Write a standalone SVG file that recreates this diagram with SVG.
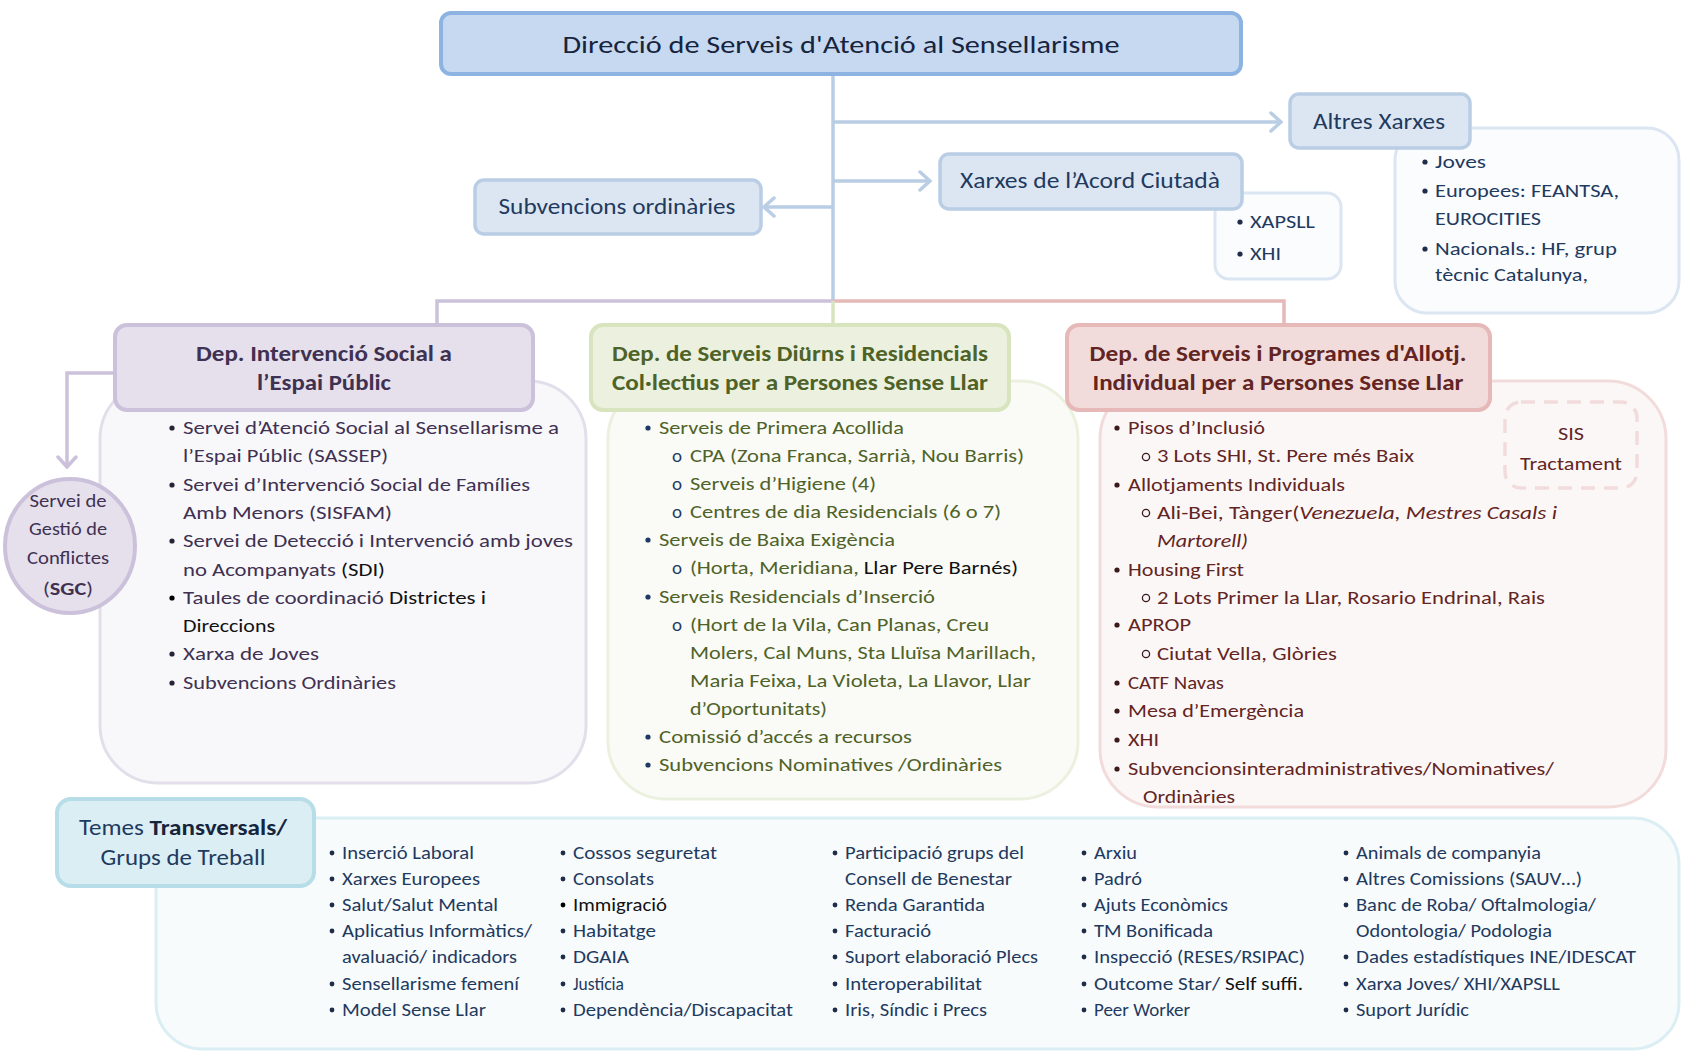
<svg xmlns="http://www.w3.org/2000/svg" width="1682" height="1056" viewBox="0 0 1682 1056">
<defs>
<style>
text{font-family:Carlito,Lato,"Liberation Sans",sans-serif;}
.t19{font-size:19px;}
.t17{font-size:17.5px;}
.hd{font-size:21.5px;font-weight:bold;text-anchor:middle;}
.sm{font-size:22px;fill:#1f3a5f;text-anchor:middle;}
.pu{fill:#403152;}
.gr{fill:#4f6228;}
.rd{fill:#632523;}
.bl{fill:#1f3a5f;}
.bk{fill:#111111;}
.conn{fill:none;stroke-width:3.5;}
</style>
<marker id="arB" viewBox="0 0 14 22" refX="12" refY="11" markerWidth="14" markerHeight="22" markerUnits="userSpaceOnUse" orient="auto">
<path d="M2,2 L12,11 L2,20" fill="none" stroke="#b9cde5" stroke-width="3.5" stroke-linecap="round"/>
</marker>
<marker id="arP" viewBox="0 0 14 22" refX="12" refY="11" markerWidth="14" markerHeight="22" markerUnits="userSpaceOnUse" orient="auto">
<path d="M2,2 L12,11 L2,20" fill="none" stroke="#ccc1da" stroke-width="3.5" stroke-linecap="round"/>
</marker>
</defs>
<rect width="1682" height="1056" fill="#ffffff"/>

<g id="connectors">
<path class="conn" d="M833,74 V301" stroke="#b9cde5"/>
<path class="conn" d="M833,122 H1281" stroke="#b9cde5" marker-end="url(#arB)"/>
<path class="conn" d="M833,181 H930" stroke="#b9cde5" marker-end="url(#arB)"/>
<path class="conn" d="M833,207 H764" stroke="#b9cde5" marker-end="url(#arB)"/>
<path class="conn" d="M833,301 H437 V326" stroke="#ccc1da"/>
<path class="conn" d="M833,301 H1284 V326" stroke="#e6b9b8"/>
<path class="conn" d="M833,301 V326" stroke="#d7e4bd"/>
<path class="conn" d="M116,373 H67 V467" stroke="#ccc1da" marker-end="url(#arP)"/>
</g>

<g id="direccio">
<rect x="441" y="13" width="800" height="61" rx="10" fill="#c6d9f1" stroke="#8db3e2" stroke-width="4"/>
<text x="841" y="53" text-anchor="middle" style="font-size:25px;fill:#17243e" textLength="557" lengthAdjust="spacingAndGlyphs">Direcció de Serveis d'Atenció al Sensellarisme</text>
</g>

<g id="altres-xarxes-llista">
<rect x="1395" y="128" width="284" height="185" rx="32" fill="#fbfcfe" stroke="#dce6f2" stroke-width="3"/>
<circle cx="1425" cy="162" r="2.6" fill="#1f2d4a"/>
<text class="t19 bl" x="1435" y="168" textLength="51" lengthAdjust="spacingAndGlyphs">Joves</text>
<circle cx="1425" cy="191" r="2.6" fill="#1f2d4a"/>
<text class="t19 bl" x="1435" y="197" textLength="184" lengthAdjust="spacingAndGlyphs">Europees: FEANTSA,</text>
<text class="t19 bl" x="1435" y="225" textLength="106" lengthAdjust="spacingAndGlyphs">EUROCITIES</text>
<circle cx="1425" cy="249" r="2.6" fill="#1f2d4a"/>
<text class="t19 bl" x="1435" y="255" textLength="182" lengthAdjust="spacingAndGlyphs">Nacionals.:  HF, grup</text>
<text class="t19 bl" x="1435" y="281" textLength="153" lengthAdjust="spacingAndGlyphs">tècnic Catalunya,</text>
</g>

<g id="altres-xarxes">
<rect x="1290" y="94" width="180" height="54" rx="9" fill="#dce6f2" stroke="#b9cde5" stroke-width="3.5"/>
<text class="sm" x="1379" y="129" textLength="132" lengthAdjust="spacingAndGlyphs">Altres Xarxes</text>
</g>

<g id="acord-llista">
<rect x="1215" y="193" width="126" height="86" rx="14" fill="#fbfcfe" stroke="#dce6f2" stroke-width="3"/>
<circle cx="1240" cy="222" r="2.6" fill="#1f2d4a"/>
<text class="t19 bl" x="1250" y="228" textLength="65" lengthAdjust="spacingAndGlyphs">XAPSLL</text>
<circle cx="1240" cy="254" r="2.6" fill="#1f2d4a"/>
<text class="t19 bl" x="1250" y="260" textLength="31" lengthAdjust="spacingAndGlyphs">XHI</text>
</g>

<g id="xarxes-acord">
<rect x="940" y="154" width="302" height="55" rx="9" fill="#dce6f2" stroke="#b9cde5" stroke-width="3.5"/>
<text class="sm" x="1090" y="188" textLength="260" lengthAdjust="spacingAndGlyphs">Xarxes de l’Acord Ciutadà</text>
</g>

<g id="subvencions">
<rect x="475" y="180" width="286" height="54" rx="9" fill="#dce6f2" stroke="#b9cde5" stroke-width="3.5"/>
<text class="sm" x="617" y="214" textLength="237" lengthAdjust="spacingAndGlyphs">Subvencions ordinàries</text>
</g>

<g id="dep-intervencio">
<rect x="100" y="381" width="486" height="402" rx="58" fill="#f8f8fb" stroke="#e3dfea" stroke-width="3"/>
<rect x="115" y="325" width="418" height="85" rx="12" fill="#e5e0ec" stroke="#ccc1da" stroke-width="4"/>
<text class="hd" x="324" y="361" style="fill:#3f3151" textLength="256" lengthAdjust="spacingAndGlyphs">Dep. Intervenció Social a</text>
<text class="hd" x="324" y="390" style="fill:#3f3151" textLength="134" lengthAdjust="spacingAndGlyphs">l’Espai Públic</text>
<g fill="#2a2238">
<circle cx="172" cy="428" r="2.6"/><circle cx="172" cy="485" r="2.6"/><circle cx="172" cy="541" r="2.6"/>
<circle cx="172" cy="598" r="2.6" fill="#000"/><circle cx="172" cy="654" r="2.6"/><circle cx="172" cy="683" r="2.6"/>
</g>
<text class="t19 pu" x="183" y="434" textLength="376" lengthAdjust="spacingAndGlyphs">Servei d’Atenció Social al Sensellarisme a</text>
<text class="t19 pu" x="183" y="462" textLength="205" lengthAdjust="spacingAndGlyphs">l’Espai Públic (SASSEP)</text>
<text class="t19 pu" x="183" y="491" textLength="347" lengthAdjust="spacingAndGlyphs">Servei d’Intervenció Social de Famílies</text>
<text class="t19 pu" x="183" y="519" textLength="209" lengthAdjust="spacingAndGlyphs">Amb Menors (SISFAM)</text>
<text class="t19 pu" x="183" y="547" textLength="390" lengthAdjust="spacingAndGlyphs">Servei de Detecció i Intervenció amb joves</text>
<text class="t19 pu" x="183" y="576" textLength="202" lengthAdjust="spacingAndGlyphs">no Acompanyats <tspan class="bk">(SDI)</tspan></text>
<text class="t19 pu" x="183" y="604" textLength="303" lengthAdjust="spacingAndGlyphs">Taules de coordinació  <tspan class="bk">Districtes  i</tspan></text>
<text class="t19 bk" x="183" y="632" textLength="92" lengthAdjust="spacingAndGlyphs">Direccions</text>
<text class="t19 pu" x="183" y="660" textLength="136" lengthAdjust="spacingAndGlyphs">Xarxa de Joves</text>
<text class="t19 pu" x="183" y="689" textLength="213" lengthAdjust="spacingAndGlyphs">Subvencions Ordinàries</text>
</g>

<g id="sgc">
<ellipse cx="70" cy="546" rx="65" ry="67" fill="#e5e0ec" stroke="#ccc1da" stroke-width="4"/>
<text class="t19 pu" x="68" y="507" text-anchor="middle" textLength="77" lengthAdjust="spacingAndGlyphs">Servei de</text>
<text class="t19 pu" x="68" y="535" text-anchor="middle" textLength="78" lengthAdjust="spacingAndGlyphs">Gestió de</text>
<text class="t19 pu" x="68" y="564" text-anchor="middle" textLength="82" lengthAdjust="spacingAndGlyphs">Conflictes</text>
<text class="t19 pu" x="68" y="595" text-anchor="middle" textLength="50" lengthAdjust="spacingAndGlyphs">(<tspan style="font-weight:bold">SGC</tspan>)</text>
</g>

<g id="dep-diurns">
<rect x="608" y="381" width="470" height="418" rx="58" fill="#fafbf6" stroke="#ebf1de" stroke-width="3"/>
<rect x="591" y="325" width="418" height="85" rx="12" fill="#ebf1de" stroke="#d7e4bd" stroke-width="4"/>
<text class="hd" x="800" y="361" style="fill:#4f6228" textLength="376" lengthAdjust="spacingAndGlyphs">Dep. de Serveis Diürns i Residencials</text>
<text class="hd" x="800" y="390" style="fill:#4f6228" textLength="376" lengthAdjust="spacingAndGlyphs">Col·lectius per a Persones Sense Llar</text>
<g fill="#1f3864">
<circle cx="648" cy="428" r="2.6"/><circle cx="648" cy="540" r="2.6"/><circle cx="648" cy="597" r="2.6"/>
<circle cx="648" cy="737" r="2.6"/><circle cx="648" cy="765" r="2.6"/>
</g>
<g class="t19" fill="#1f3864">
<text x="672" y="462">o</text><text x="672" y="490">o</text><text x="672" y="518">o</text>
<text x="672" y="574">o</text><text x="672" y="631">o</text>
</g>
<text class="t19 gr" x="659" y="434" textLength="245" lengthAdjust="spacingAndGlyphs">Serveis de Primera Acollida</text>
<text class="t19 gr" x="690" y="462" textLength="334" lengthAdjust="spacingAndGlyphs">CPA (Zona Franca, Sarrià, Nou Barris)</text>
<text class="t19 gr" x="690" y="490" textLength="186" lengthAdjust="spacingAndGlyphs">Serveis d’Higiene (4)</text>
<text class="t19 gr" x="690" y="518" textLength="311" lengthAdjust="spacingAndGlyphs">Centres de dia Residencials (6 o 7)</text>
<text class="t19 gr" x="659" y="546" textLength="236" lengthAdjust="spacingAndGlyphs">Serveis de Baixa Exigència</text>
<text class="t19 gr" x="690" y="574" textLength="328" lengthAdjust="spacingAndGlyphs">(Horta, Meridiana, <tspan class="bk">Llar  Pere Barnés)</tspan></text>
<text class="t19 gr" x="659" y="603" textLength="276" lengthAdjust="spacingAndGlyphs">Serveis Residencials d’Inserció</text>
<text class="t19 gr" x="690" y="631" textLength="299" lengthAdjust="spacingAndGlyphs">(Hort de la Vila, Can Planas, Creu</text>
<text class="t19 gr" x="690" y="659" textLength="346" lengthAdjust="spacingAndGlyphs">Molers, Cal Muns, Sta Lluïsa Marillach,</text>
<text class="t19 gr" x="690" y="687" textLength="341" lengthAdjust="spacingAndGlyphs">Maria Feixa, La Violeta, La Llavor, Llar</text>
<text class="t19 gr" x="690" y="715" textLength="137" lengthAdjust="spacingAndGlyphs">d’Oportunitats)</text>
<text class="t19 gr" x="659" y="743" textLength="253" lengthAdjust="spacingAndGlyphs">Comissió d’accés a recursos</text>
<text class="t19 gr" x="659" y="771" textLength="343" lengthAdjust="spacingAndGlyphs">Subvencions Nominatives /Ordinàries</text>
</g>

<g id="dep-allotjament">
<rect x="1100" y="381" width="566" height="426" rx="58" fill="#fcf7f7" stroke="#f2dcdb" stroke-width="3"/>
<rect x="1067" y="325" width="423" height="85" rx="12" fill="#f2dcdb" stroke="#e6b9b8" stroke-width="4"/>
<text class="hd" x="1278" y="361" style="fill:#632523" textLength="377" lengthAdjust="spacingAndGlyphs">Dep. de Serveis i Programes d'Allotj.</text>
<text class="hd" x="1278" y="390" style="fill:#632523" textLength="371" lengthAdjust="spacingAndGlyphs">Individual per a Persones Sense Llar</text>
<g fill="#3a1a1a">
<circle cx="1117" cy="428" r="2.6"/><circle cx="1117" cy="485" r="2.6"/><circle cx="1117" cy="570" r="2.6"/>
<circle cx="1117" cy="625" r="2.6"/><circle cx="1117" cy="683" r="2.6"/><circle cx="1117" cy="711" r="2.6"/>
<circle cx="1117" cy="740" r="2.6"/><circle cx="1117" cy="769" r="2.6"/>
</g>
<g fill="none" stroke="#3a1a1a" stroke-width="1.3">
<circle cx="1146" cy="457" r="3.6"/><circle cx="1146" cy="513" r="3.6"/><circle cx="1146" cy="598" r="3.6"/><circle cx="1146" cy="654" r="3.6"/>
</g>
<text class="t19 rd" x="1128" y="434" textLength="137" lengthAdjust="spacingAndGlyphs">Pisos d’Inclusió</text>
<text class="t19 rd" x="1157" y="462" textLength="257" lengthAdjust="spacingAndGlyphs">3 Lots SHI, St. Pere més Baix</text>
<text class="t19 rd" x="1128" y="491" textLength="217" lengthAdjust="spacingAndGlyphs">Allotjaments Individuals</text>
<text class="t19 rd" x="1157" y="519" textLength="400" lengthAdjust="spacingAndGlyphs">Ali-Bei, Tànger(<tspan font-style="italic">Venezuela,  Mestres Casals i</tspan></text>
<text class="t19 rd" x="1157" y="547" font-style="italic" textLength="91" lengthAdjust="spacingAndGlyphs">Martorell)</text>
<text class="t19 rd" x="1128" y="576" textLength="116" lengthAdjust="spacingAndGlyphs">Housing First</text>
<text class="t19 rd" x="1157" y="604" textLength="388" lengthAdjust="spacingAndGlyphs">2 Lots Primer la Llar, Rosario Endrinal, Rais</text>
<text class="t19 rd" x="1128" y="631" textLength="63" lengthAdjust="spacingAndGlyphs">APROP</text>
<text class="t19 rd" x="1157" y="660" textLength="180" lengthAdjust="spacingAndGlyphs">Ciutat Vella, Glòries</text>
<text class="t19 rd" x="1128" y="689" textLength="96" lengthAdjust="spacingAndGlyphs">CATF Navas</text>
<text class="t19 rd" x="1128" y="717" textLength="176" lengthAdjust="spacingAndGlyphs">Mesa d’Emergència</text>
<text class="t19 rd" x="1128" y="746" textLength="31" lengthAdjust="spacingAndGlyphs">XHI</text>
<text class="t19 rd" x="1128" y="775" textLength="426" lengthAdjust="spacingAndGlyphs">Subvencionsinteradministratives/Nominatives/</text>
<text class="t19 rd" x="1143" y="803" textLength="92" lengthAdjust="spacingAndGlyphs">Ordinàries</text>
</g>

<g id="sis-tractament">
<rect x="1505" y="402" width="132" height="86" rx="16" fill="none" stroke="#f2dcdb" stroke-width="3.5" stroke-dasharray="14,9"/>
<text class="t19 rd" x="1571" y="440" text-anchor="middle" textLength="26" lengthAdjust="spacingAndGlyphs">SIS</text>
<text class="t19 rd" x="1571" y="470" text-anchor="middle" textLength="102" lengthAdjust="spacingAndGlyphs">Tractament</text>
</g>

<g id="temes-transversals">
<rect x="156" y="818" width="1523" height="231" rx="46" fill="#f7fbfc" stroke="#dbeef3" stroke-width="3"/>
<rect x="57" y="799" width="257" height="87" rx="14" fill="#daeef3" stroke="#b7dde8" stroke-width="4"/>
<text x="183" y="835" text-anchor="middle" style="font-size:22px;fill:#1f3a5f" textLength="208" lengthAdjust="spacingAndGlyphs">Temes <tspan font-weight="bold" fill="#17243e">Transversals/</tspan></text>
<text x="183" y="865" text-anchor="middle" style="font-size:22px;fill:#1f3a5f" textLength="165" lengthAdjust="spacingAndGlyphs">Grups de Treball</text>
<g fill="#1f2d4a">
<circle cx="332" cy="853" r="2.4"/><circle cx="332" cy="879" r="2.4"/><circle cx="332" cy="905" r="2.4"/><circle cx="332" cy="931" r="2.4"/><circle cx="332" cy="984" r="2.4"/><circle cx="332" cy="1010" r="2.4"/>
<circle cx="563" cy="853" r="2.4"/><circle cx="563" cy="879" r="2.4"/><circle cx="563" cy="905" r="2.4" fill="#000"/><circle cx="563" cy="931" r="2.4"/><circle cx="563" cy="957" r="2.4"/><circle cx="563" cy="984" r="2.4"/><circle cx="563" cy="1010" r="2.4"/>
<circle cx="835" cy="853" r="2.4"/><circle cx="835" cy="905" r="2.4"/><circle cx="835" cy="931" r="2.4"/><circle cx="835" cy="957" r="2.4"/><circle cx="835" cy="984" r="2.4"/><circle cx="835" cy="1010" r="2.4"/>
<circle cx="1084" cy="853" r="2.4"/><circle cx="1084" cy="879" r="2.4"/><circle cx="1084" cy="905" r="2.4"/><circle cx="1084" cy="931" r="2.4"/><circle cx="1084" cy="957" r="2.4"/><circle cx="1084" cy="984" r="2.4"/><circle cx="1084" cy="1010" r="2.4"/>
<circle cx="1346" cy="853" r="2.4"/><circle cx="1346" cy="879" r="2.4"/><circle cx="1346" cy="905" r="2.4"/><circle cx="1346" cy="957" r="2.4"/><circle cx="1346" cy="984" r="2.4"/><circle cx="1346" cy="1010" r="2.4"/>
</g>
<g class="t17 bl">
<text x="342" y="859" textLength="132" lengthAdjust="spacingAndGlyphs">Inserció Laboral</text>
<text x="342" y="885" textLength="138" lengthAdjust="spacingAndGlyphs">Xarxes Europees</text>
<text x="342" y="911" textLength="156" lengthAdjust="spacingAndGlyphs">Salut/Salut Mental</text>
<text x="342" y="937" textLength="190" lengthAdjust="spacingAndGlyphs">Aplicatius Informàtics/</text>
<text x="342" y="963" textLength="175" lengthAdjust="spacingAndGlyphs">avaluació/ indicadors</text>
<text x="342" y="990" textLength="177" lengthAdjust="spacingAndGlyphs">Sensellarisme femení</text>
<text x="342" y="1016" textLength="144" lengthAdjust="spacingAndGlyphs">Model Sense Llar</text>

<text x="573" y="859" textLength="144" lengthAdjust="spacingAndGlyphs">Cossos seguretat</text>
<text x="573" y="885" textLength="81" lengthAdjust="spacingAndGlyphs">Consolats</text>
<text x="573" y="911" class="bk" textLength="94" lengthAdjust="spacingAndGlyphs">Immigració</text>
<text x="573" y="937" textLength="83" lengthAdjust="spacingAndGlyphs">Habitatge</text>
<text x="573" y="963" textLength="56" lengthAdjust="spacingAndGlyphs">DGAIA</text>
<text x="573" y="990">Justícia</text>
<text x="573" y="1016" textLength="220" lengthAdjust="spacingAndGlyphs">Dependència/Discapacitat</text>

<text x="845" y="859" textLength="179" lengthAdjust="spacingAndGlyphs">Participació grups del</text>
<text x="845" y="885" textLength="167" lengthAdjust="spacingAndGlyphs">Consell de Benestar</text>
<text x="845" y="911" textLength="140" lengthAdjust="spacingAndGlyphs">Renda Garantida</text>
<text x="845" y="937" textLength="86" lengthAdjust="spacingAndGlyphs">Facturació</text>
<text x="845" y="963" textLength="193" lengthAdjust="spacingAndGlyphs">Suport elaboració Plecs</text>
<text x="845" y="990" textLength="137" lengthAdjust="spacingAndGlyphs">Interoperabilitat</text>
<text x="845" y="1016" textLength="142" lengthAdjust="spacingAndGlyphs">Iris, Síndic i Precs</text>

<text x="1094" y="859" textLength="43" lengthAdjust="spacingAndGlyphs">Arxiu</text>
<text x="1094" y="885" textLength="48" lengthAdjust="spacingAndGlyphs">Padró</text>
<text x="1094" y="911" textLength="134" lengthAdjust="spacingAndGlyphs">Ajuts Econòmics</text>
<text x="1094" y="937" textLength="119" lengthAdjust="spacingAndGlyphs">TM Bonificada</text>
<text x="1094" y="963" textLength="211" lengthAdjust="spacingAndGlyphs">Inspecció (RESES/RSIPAC)</text>
<text x="1094" y="990" textLength="209" lengthAdjust="spacingAndGlyphs">Outcome Star/ <tspan class="bk">Self  suffi.</tspan></text>
<text x="1094" y="1016" textLength="96" lengthAdjust="spacingAndGlyphs">Peer Worker</text>

<text x="1356" y="859" textLength="185" lengthAdjust="spacingAndGlyphs">Animals de companyia</text>
<text x="1356" y="885" textLength="226" lengthAdjust="spacingAndGlyphs">Altres Comissions (SAUV…)</text>
<text x="1356" y="911" textLength="240" lengthAdjust="spacingAndGlyphs">Banc de Roba/ Oftalmologia/</text>
<text x="1356" y="937" textLength="196" lengthAdjust="spacingAndGlyphs">Odontologia/ Podologia</text>
<text x="1356" y="963" textLength="280" lengthAdjust="spacingAndGlyphs">Dades estadístiques INE/IDESCAT</text>
<text x="1356" y="990" textLength="204" lengthAdjust="spacingAndGlyphs">Xarxa Joves/ XHI/XAPSLL</text>
<text x="1356" y="1016" textLength="113" lengthAdjust="spacingAndGlyphs">Suport Jurídic</text>
</g>
</g>
</svg>
